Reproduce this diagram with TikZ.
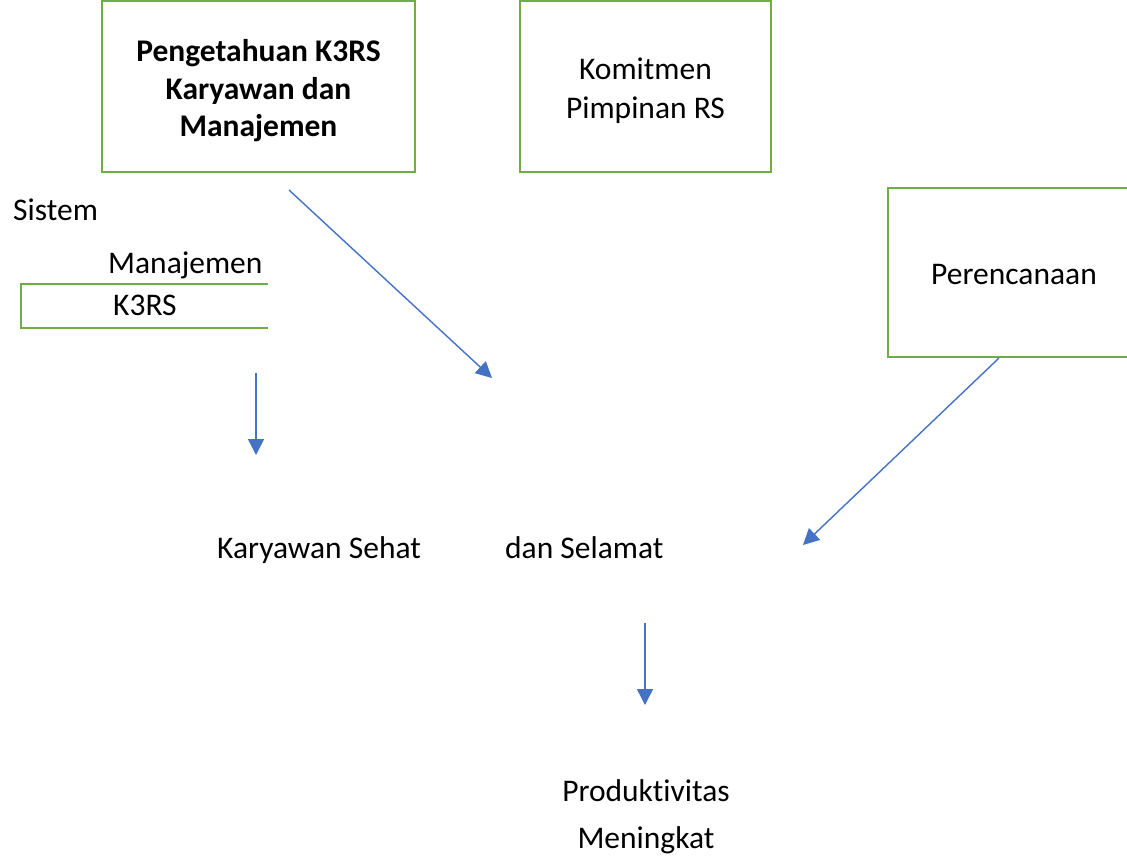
\documentclass[tikz,border=0pt]{standalone}
\usepackage{fontspec}
\setmainfont{Carlito}[Ligatures=NoCommon]
\usetikzlibrary{arrows.meta}
\definecolor{grn}{HTML}{70AD47}
\definecolor{blu}{HTML}{4472C4}
\begin{document}
\begin{tikzpicture}[x=1pt,y=-1pt,
  box/.style={draw=grn,line width=2.8pt,inner sep=0pt},
  txt/.style={inner sep=0pt,align=center,font=\fontsize{31.5}{37.5}\selectfont},
  arr/.style={draw=blu,line width=1.4pt,-{Triangle[width=16pt,length=16pt]}}]
\clip (0,0) rectangle (1127,855);
\fill[white] (0,0) rectangle (1127,855);
% boxes
\node[box,minimum width=313pt,minimum height=171pt] (peng) at (258.5,86.5) {};
\node[box,minimum width=251pt,minimum height=171pt] (kom) at (645.5,86.5) {};
\node[box,minimum width=252pt,minimum height=169pt] (per) at (1014,272.5) {};
\node[txt,font=\bfseries\fontsize{31.5}{37.5}\selectfont] (pengt) at (258.5,91) {Pengetahuan K3RS\\Karyawan dan\\Manajemen};
\node[txt,font=\fontsize{31.5}{39}\selectfont] (komt) at (645.5,90.5) {Komitmen\\Pimpinan RS};
\node[txt] (pert) at (1014,275) {Perencanaan};
% open box K3RS
\coordinate (k1) at (268,284);
\coordinate (k2) at (21,284);
\coordinate (k3) at (21,328);
\coordinate (k4) at (268,328);
\draw[grn,line width=2.8pt] (k1) -- (k2) -- (k3) -- (k4);
% labels
\node[txt,anchor=base west] (sis) at (13,220) {Sistem};
\node[txt,anchor=base west] (man) at (108,273) {Manajemen};
\node[txt,anchor=base west] (k3) at (113,315) {K3RS};
\node[txt,anchor=base west] (kar) at (217,558) {Karyawan Sehat};
\node[txt,anchor=base west] (dan) at (505,558) {dan Selamat};
\node[txt,anchor=base] (pro) at (646,801) {Produktivitas};
\node[txt,anchor=base] (men) at (646,848) {Meningkat};
% arrows
\coordinate (a1s) at (289,190);
\coordinate (a1e) at (492,378);
\coordinate (a2s) at (256,373);
\coordinate (a2e) at (256,455);
\coordinate (a3s) at (999,358);
\coordinate (a3e) at (803,545);
\coordinate (a4s) at (645,623);
\coordinate (a4e) at (645,705);
\draw[arr] (a1s) -- (a1e);
\draw[arr] (a2s) -- (a2e);
\draw[arr] (a3s) -- (a3e);
\draw[arr] (a4s) -- (a4e);
\end{tikzpicture}
\end{document}
